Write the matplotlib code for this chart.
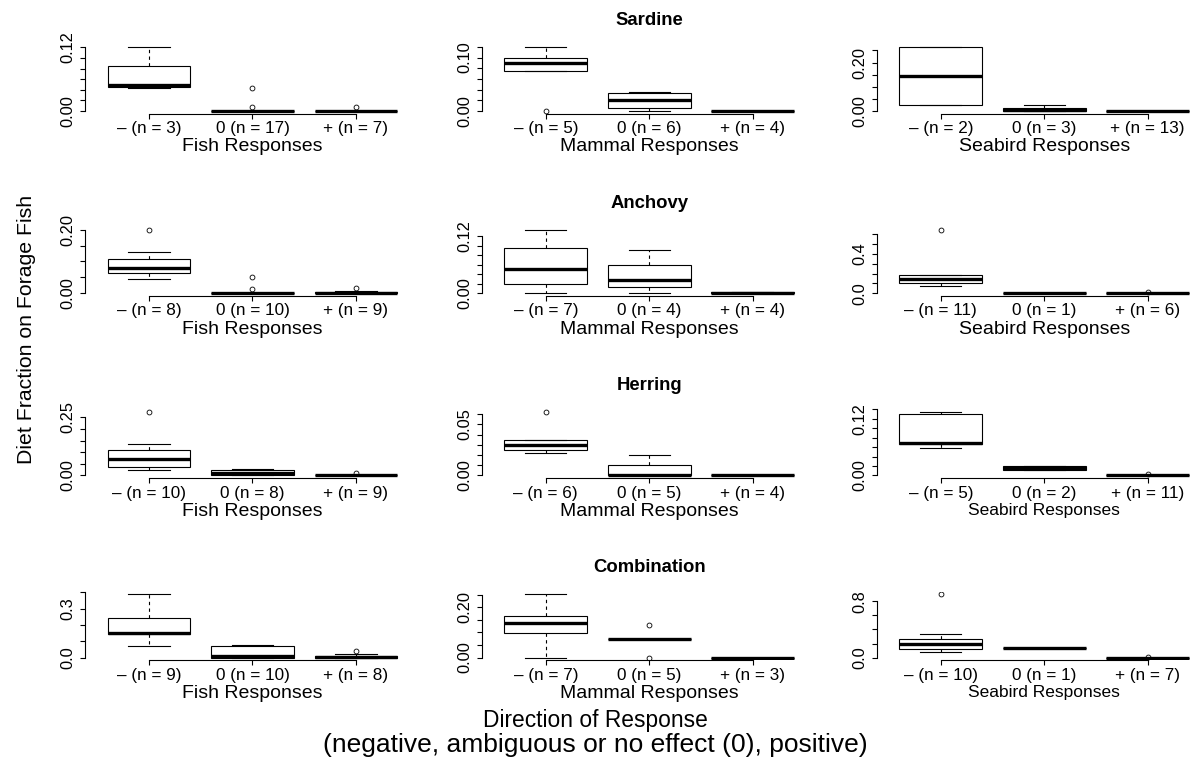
import numpy as np
import matplotlib.pyplot as plt

plt.rcParams['font.family'] = ['Liberation Sans', 'DejaVu Sans']

# box statistics per panel: (whislo, q1, med, q3, whishi, [outliers])
groups = ["Sardine", "Anchovy", "Herring", "Combination"]
responders = ["Fish", "Mammal", "Seabird"]

sardine_fish = [(0.043, 0.046, 0.049, 0.0855, 0.120, []),
                (0.0, 0.0, 0.0, 0.0, 0.0, [0.043, 0.008]),
                (0.0, 0.0, 0.0, 0.0, 0.0, [0.008])]
sardine_mammal = [(0.075, 0.075, 0.090, 0.100, 0.119, [0.0]),
                  (0.0, 0.005, 0.0206, 0.034, 0.0355, []),
                  (0.0, 0.0, 0.0, 0.0, 0.0, [])]
sardine_seabird = [(0.025, 0.025, 0.144, 0.2625, 0.2625, []),
                   (0.0, 0.0, 0.003, 0.012, 0.0235, []),
                   (0.0, 0.0, 0.0, 0.0, 0.0, [])]

anchovy_fish = [(0.046, 0.064, 0.080, 0.109, 0.129, [0.20]),
                (0.0, 0.0, 0.0, 0.002, 0.002, [0.050, 0.0135]),
                (0.0, 0.0, 0.001, 0.004, 0.006, [0.0156])]
anchovy_mammal = [(0.0, 0.0195, 0.050, 0.096, 0.134, []),
                  (0.0, 0.0126, 0.028, 0.0585, 0.090, []),
                  (0.0, 0.0, 0.0, 0.002, 0.002, [])]
anchovy_seabird = [(0.074, 0.101, 0.141, 0.185, 0.190, [0.647]),
                   (0.0, 0.0, 0.0, 0.0, 0.0, []),
                   (0.0, 0.0, 0.0, 0.0, 0.0, [0.008])]

herring_fish = [(0.0217, 0.0376, 0.071, 0.108, 0.134, [0.274]),
                (0.0, 0.002, 0.010, 0.0246, 0.027, []),
                (0.0, 0.0, 0.0, 0.0, 0.0, [0.0116])]
herring_mammal = [(0.0221, 0.0248, 0.030, 0.0345, 0.0345, [0.0622]),
                  (0.0, 0.0, 0.0003, 0.0098, 0.0199, []),
                  (0.0, 0.0, 0.0, 0.0, 0.0, [])]
herring_seabird = [(0.0575, 0.066, 0.0686, 0.1294, 0.135, []),
                   (0.011, 0.011, 0.0155, 0.020, 0.020, []),
                   (0.0, 0.0, 0.0, 0.0, 0.0, [0.002])]

combo_fish = [(0.069, 0.144, 0.152, 0.2436, 0.390, []),
              (0.0, 0.0, 0.010, 0.073, 0.077, []),
              (0.0, 0.0, 0.005, 0.010, 0.024, [0.038])]
combo_mammal = [(0.0, 0.097, 0.1395, 0.167, 0.253, []),
                (0.0735, 0.0735, 0.0735, 0.0735, 0.0735, [0.1315, 0.0]),
                (0.0, 0.0, 0.0, 0.0, 0.0, [])]
combo_seabird = [(0.076, 0.124, 0.200, 0.261, 0.338, [0.904]),
                 (0.138, 0.138, 0.138, 0.138, 0.138, []),
                 (0.0, 0.0, 0.0, 0.0, 0.0, [0.010])]

panels = [[sardine_fish, sardine_mammal, sardine_seabird],
          [anchovy_fish, anchovy_mammal, anchovy_seabird],
          [herring_fish, herring_mammal, herring_seabird],
          [combo_fish, combo_mammal, combo_seabird]]

n_counts = [[[3, 17, 7], [5, 6, 4], [2, 3, 13]],
            [[8, 10, 9], [7, 4, 4], [11, 1, 6]],
            [[10, 8, 9], [6, 5, 4], [5, 2, 11]],
            [[9, 10, 8], [7, 5, 3], [10, 1, 7]]]

# y axis: tick step, last tick, ticks that carry a label
tick_step = [[0.02, 0.02, 0.05], [0.05, 0.02, 0.1], [0.05, 0.01, 0.02], [0.1, 0.05, 0.2]]
tick_top = [[0.12, 0.12, 0.25], [0.20, 0.12, 0.6], [0.25, 0.06, 0.14], [0.4, 0.25, 0.8]]
tick_shown = [[[0.0, 0.12], [0.0, 0.10], [0.0, 0.20]],
              [[0.0, 0.20], [0.0, 0.12], [0.0, 0.4]],
              [[0.0, 0.25], [0.0, 0.05], [0.0, 0.12]],
              [[0.0, 0.3], [0.0, 0.20], [0.0, 0.8]]]
tick_digits = [[2, 2, 2], [2, 2, 1], [2, 2, 2], [1, 2, 1]]

signs = ["\u2013", "0", "+"]

W, H = 1191, 764
fig = plt.figure(figsize=(W / 100, H / 100), dpi=100)

col_left = [85, 481.7, 876.7]
ax_w = 335
row_bottom = [113.5, 295.7, 477.9, 660.1]
ax_h = 68.6

for r, grp in enumerate(groups):
    for c, who in enumerate(responders):
        ax = fig.add_axes([col_left[c] / W, 1 - row_bottom[r] / H, ax_w / W, ax_h / H])
        stats = []
        for lo, q1, med, q3, hi, out in panels[r][c]:
            stats.append(dict(whislo=lo, q1=q1, med=med, q3=q3, whishi=hi, fliers=out))
        ax.bxp(stats, positions=[1, 2, 3], widths=0.8, capwidths=0.4, patch_artist=True,
               boxprops=dict(facecolor='white', edgecolor='black', linewidth=0.8),
               medianprops=dict(color='black', linewidth=2.4, solid_capstyle='butt'),
               whiskerprops=dict(color='black', linewidth=0.8, linestyle=(0, (3, 3))),
               capprops=dict(color='black', linewidth=0.8),
               flierprops=dict(marker='o', markersize=3.5, markerfacecolor='none',
                               markeredgecolor='black', markeredgewidth=0.6))

        vals = [v for s in panels[r][c] for v in s[:5] + tuple(s[5])]
        lo, hi = min(vals), max(vals)
        ext = 0.04 * (hi - lo)
        ax.set_ylim(lo - ext, hi + ext)
        ax.set_xlim(0.38, 3.62)

        yt = np.arange(0, tick_top[r][c] + tick_step[r][c] / 2, tick_step[r][c])
        labs = []
        for v in yt:
            if any(abs(v - s) < 1e-9 for s in tick_shown[r][c]):
                labs.append("%.*f" % (tick_digits[r][c], v))
            else:
                labs.append("")
        ax.set_yticks(yt)
        ax.set_yticklabels(labs, rotation=90, va='center', fontsize=11.8)

        ax.set_xticks([1, 2, 3])
        ax.set_xticklabels(["%s (n = %d)" % (signs[k], n_counts[r][c][k]) for k in range(3)],
                           fontsize=12.3)

        for side in ['top', 'right']:
            ax.spines[side].set_visible(False)
        ax.spines['left'].set_bounds(0, tick_top[r][c])
        ax.spines['bottom'].set_bounds(1, 3)
        for side in ['left', 'bottom']:
            ax.spines[side].set_linewidth(0.8)
        ax.tick_params(axis='both', length=3.6, width=0.8)
        ax.tick_params(axis='x', pad=2)
        ax.tick_params(axis='y', pad=3)

        xl_size = 12.5 if (c == 2 and r >= 2) else 14
        ax.set_xlabel(who + " Responses", fontsize=xl_size, labelpad=1.5)

        if c == 1:
            ax.set_title(grp, fontweight='bold', fontsize=13.3, pad=14)

fig.text(27 / W, 1 - 329 / H, "Diet Fraction on Forage Fish", rotation=90,
         fontsize=15.3, ha='center', va='center')
fig.text(0.5, 1 - 721 / H, "Direction of Response", fontsize=16.4, ha='center', va='center')
fig.text(0.5, 1 - 745 / H, "(negative, ambiguous or no effect (0), positive)",
         fontsize=19.0, ha='center', va='center')

fig.savefig("out.png", dpi=100)
